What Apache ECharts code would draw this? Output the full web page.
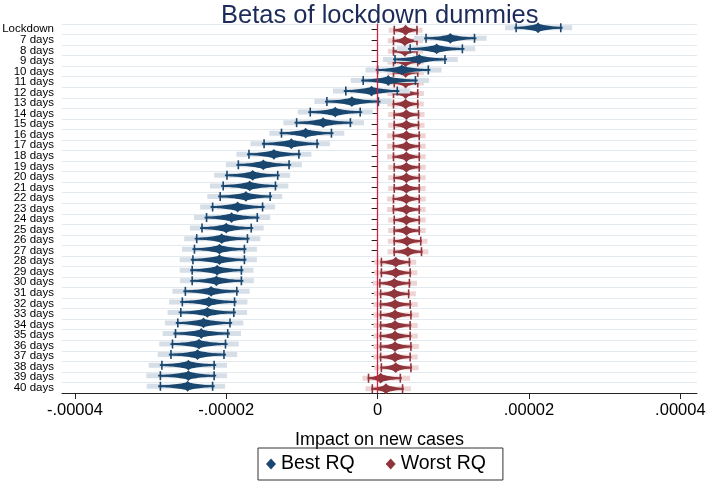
<!DOCTYPE html>
<html>
<head>
<meta charset="utf-8">
<script src="https://cdn.jsdelivr.net/npm/echarts@6/dist/echarts.min.js"></script>
<style>
html,body{margin:0;padding:0;background:#fff;}
#c{width:708px;height:489px;}
</style>
</head>
<body>
<div id="c"></div>
<script>
const categories = ['Lockdown','7 days','8 days','9 days','10 days','11 days','12 days','13 days','14 days','15 days','16 days','17 days','18 days','19 days','20 days','21 days','22 days','23 days','24 days','25 days','26 days','27 days','28 days','29 days','30 days','31 days','32 days','33 days','34 days','35 days','36 days','37 days','38 days','39 days','40 days'];

const bestEst = [2.12e-5,0.96e-5,0.78e-5,0.55e-5,0.32e-5,0.14e-5,-0.08e-5,-0.34e-5,-0.56e-5,-0.72e-5,-0.95e-5,-1.14e-5,-1.37e-5,-1.51e-5,-1.65e-5,-1.69e-5,-1.74e-5,-1.85e-5,-1.93e-5,-2.00e-5,-2.06e-5,-2.09e-5,-2.09e-5,-2.12e-5,-2.13e-5,-2.20e-5,-2.23e-5,-2.25e-5,-2.30e-5,-2.33e-5,-2.36e-5,-2.38e-5,-2.50e-5,-2.50e-5,-2.51e-5];
const bestLo = [1.83e-5,0.64e-5,0.43e-5,0.23e-5,0.00e-5,-0.19e-5,-0.42e-5,-0.67e-5,-0.89e-5,-1.07e-5,-1.27e-5,-1.50e-5,-1.70e-5,-1.84e-5,-1.99e-5,-2.04e-5,-2.08e-5,-2.18e-5,-2.26e-5,-2.32e-5,-2.39e-5,-2.42e-5,-2.44e-5,-2.45e-5,-2.45e-5,-2.54e-5,-2.58e-5,-2.60e-5,-2.64e-5,-2.67e-5,-2.71e-5,-2.73e-5,-2.85e-5,-2.87e-5,-2.87e-5];
const bestHi = [2.42e-5,1.28e-5,1.12e-5,0.89e-5,0.67e-5,0.50e-5,0.26e-5,0.01e-5,-0.23e-5,-0.36e-5,-0.61e-5,-0.80e-5,-1.04e-5,-1.17e-5,-1.32e-5,-1.35e-5,-1.42e-5,-1.52e-5,-1.59e-5,-1.67e-5,-1.72e-5,-1.76e-5,-1.76e-5,-1.80e-5,-1.80e-5,-1.86e-5,-1.89e-5,-1.90e-5,-1.95e-5,-1.98e-5,-2.01e-5,-2.03e-5,-2.16e-5,-2.16e-5,-2.18e-5];

const worstEst = [0.37e-5,0.36e-5,0.36e-5,0.37e-5,0.37e-5,0.37e-5,0.37e-5,0.37e-5,0.38e-5,0.38e-5,0.38e-5,0.38e-5,0.38e-5,0.38e-5,0.38e-5,0.38e-5,0.38e-5,0.38e-5,0.38e-5,0.38e-5,0.39e-5,0.40e-5,0.24e-5,0.24e-5,0.22e-5,0.22e-5,0.23e-5,0.23e-5,0.23e-5,0.23e-5,0.23e-5,0.23e-5,0.24e-5,0.04e-5,0.11e-5];
const worstLo = [0.22e-5,0.21e-5,0.21e-5,0.21e-5,0.21e-5,0.22e-5,0.21e-5,0.21e-5,0.22e-5,0.22e-5,0.21e-5,0.21e-5,0.21e-5,0.22e-5,0.22e-5,0.22e-5,0.21e-5,0.21e-5,0.22e-5,0.22e-5,0.22e-5,0.22e-5,0.05e-5,0.05e-5,0.03e-5,0.04e-5,0.04e-5,0.04e-5,0.04e-5,0.04e-5,0.04e-5,0.04e-5,0.05e-5,-0.12e-5,-0.07e-5];
const worstHi = [0.52e-5,0.52e-5,0.52e-5,0.53e-5,0.53e-5,0.53e-5,0.53e-5,0.53e-5,0.54e-5,0.54e-5,0.55e-5,0.55e-5,0.55e-5,0.55e-5,0.55e-5,0.55e-5,0.55e-5,0.55e-5,0.55e-5,0.55e-5,0.57e-5,0.58e-5,0.42e-5,0.43e-5,0.42e-5,0.41e-5,0.43e-5,0.44e-5,0.43e-5,0.43e-5,0.44e-5,0.43e-5,0.44e-5,0.30e-5,0.33e-5];

const seriesNames = ['Best RQ','Worst RQ'];
const xTickValues = [-0.00004,-0.00002,0,0.00002,0.00004];
const xTickLabels = ['-.00004','-.00002','0','.00002','.00004'];
const xTitle = 'Impact on new cases';
const chartTitle = 'Betas of lockdown dummies';

const colors = {best:'#1a476f', worst:'#90353b', bestLight:'#d6dee7', worstLight:'#efd4d6'};

function build(est, lo, hi){
  return est.map((e,i)=>[e, lo[i], hi[i], i]);
}

function makeRender(color, light, offPx){
  return function(params, api){
    const est = api.value(0), lo = api.value(1), hi = api.value(2), idx = api.value(3);
    const pc = api.coord([est, idx]);
    const cx = pc[0], y = pc[1] + offPx;
    const xl = api.coord([lo, idx])[0], xh = api.coord([hi, idx])[0];
    const ol = cx - (cx - xl) * 1.5, oh = cx + (xh - cx) * 1.5;
    const children = [];
    children.push({type:'rect', shape:{x:ol, y:y-2.5, width:oh-ol, height:5}, style:{fill:light}});
    const top = [], bot = [];
    const N = 14;
    for (let k=N; k>=0; k--) {
      const t = k/N; const xx = cx - t*(cx-xl)*1.08; const h = 0.9 + 3.1*Math.pow(1-t,2.0);
      top.push([xx, y-h]); bot.unshift([xx, y+h]);
    }
    for (let k=1; k<=N; k++) {
      const t = k/N; const xx = cx + t*(xh-cx)*1.08; const h = 0.9 + 3.1*Math.pow(1-t,2.0);
      top.push([xx, y-h]); bot.unshift([xx, y+h]);
    }
    children.push({type:'polygon', shape:{points: top.concat(bot)}, style:{fill:color}});
    children.push({type:'line', shape:{x1:xl, y1:y, x2:xh, y2:y}, style:{stroke:color, lineWidth:1.5}});
    children.push({type:'line', shape:{x1:xl, y1:y-4.5, x2:xl, y2:y+4.5}, style:{stroke:color, lineWidth:1.6}});
    children.push({type:'line', shape:{x1:xh, y1:y-4.5, x2:xh, y2:y+4.5}, style:{stroke:color, lineWidth:1.6}});
    children.push({type:'polygon', shape:{points:[[cx-5.2,y],[cx,y-5.4],[cx+5.2,y],[cx,y+5.4]]}, style:{fill:color}});
    return {type:'group', children};
  };
}

const chart = echarts.init(document.getElementById('c'), null, {renderer:'canvas'});
const sans = "'Liberation Sans',Arial,sans-serif";
const option = {
  backgroundColor:'#fff',
  animation:false,
  title:{text:chartTitle, left:216, top:-2, textStyle:{fontSize:25.5, fontWeight:'normal', color:'#1c2b5a', fontFamily:sans}},
  legend:{
    data:[{name:seriesNames[0], icon:'diamond', itemStyle:{color:colors.best}},{name:seriesNames[1], icon:'diamond', itemStyle:{color:colors.worst}}],
    left:258, top:448, itemWidth:10, itemHeight:11, itemGap:31,
    padding:[6,17,6,8], borderColor:'#333', borderWidth:1,
    textStyle:{fontSize:19.5, color:'#000', fontFamily:sans}
  },
  grid:{left:62, right:11, top:24, bottom:96, containLabel:false, outerBoundsMode:'none'},
  xAxis:{
    type:'value', min:-4.17e-5, max:4.22e-5,
    name:xTitle, nameLocation:'middle', nameGap:38,
    nameTextStyle:{fontSize:18, color:'#000', fontFamily:sans},
    axisLine:{show:true, lineStyle:{color:'#222', width:1}},
    axisTick:{show:true, customValues:xTickValues, length:6, lineStyle:{color:'#222'}},
    axisLabel:{customValues:xTickValues, margin:9, fontSize:16.5, color:'#000', fontFamily:sans, hideOverlap:false,
      formatter:function(v){ for(let i=0;i<xTickValues.length;i++){ if(Math.abs(v-xTickValues[i])<1e-9) return xTickLabels[i]; } return ''; }},
    splitLine:{show:false}
  },
  yAxis:{
    type:'category', data:categories, inverse:true,
    axisLine:{show:true, lineStyle:{color:'#222', width:1}},
    axisTick:{show:true, alignWithLabel:true, length:6, lineStyle:{color:'#222'}},
    axisLabel:{fontSize:11.5, color:'#000', margin:8, interval:0, fontFamily:sans},
    splitLine:{show:true, lineStyle:{color:'#e2eaf0', width:1.2}}
  },
  series:[
    {name:'zero', type:'custom', z:1, data:[], renderItem:function(){return null;},
     markLine:{silent:true, symbol:'none', label:{show:false}, lineStyle:{color:'#d4203f', width:1.3, type:'solid'}, data:[{xAxis:0}]}},
    {name:seriesNames[0], type:'custom', z:3, itemStyle:{color:colors.best}, encode:{x:[0,1,2], y:3},
     data:build(bestEst,bestLo,bestHi), renderItem:makeRender(colors.best, colors.bestLight, -1.5)},
    {name:seriesNames[1], type:'custom', z:2, itemStyle:{color:colors.worst}, encode:{x:[0,1,2], y:3},
     data:build(worstEst,worstLo,worstHi), renderItem:makeRender(colors.worst, colors.worstLight, 1.0)}
  ]
};
chart.setOption(option);
</script>
</body>
</html>
